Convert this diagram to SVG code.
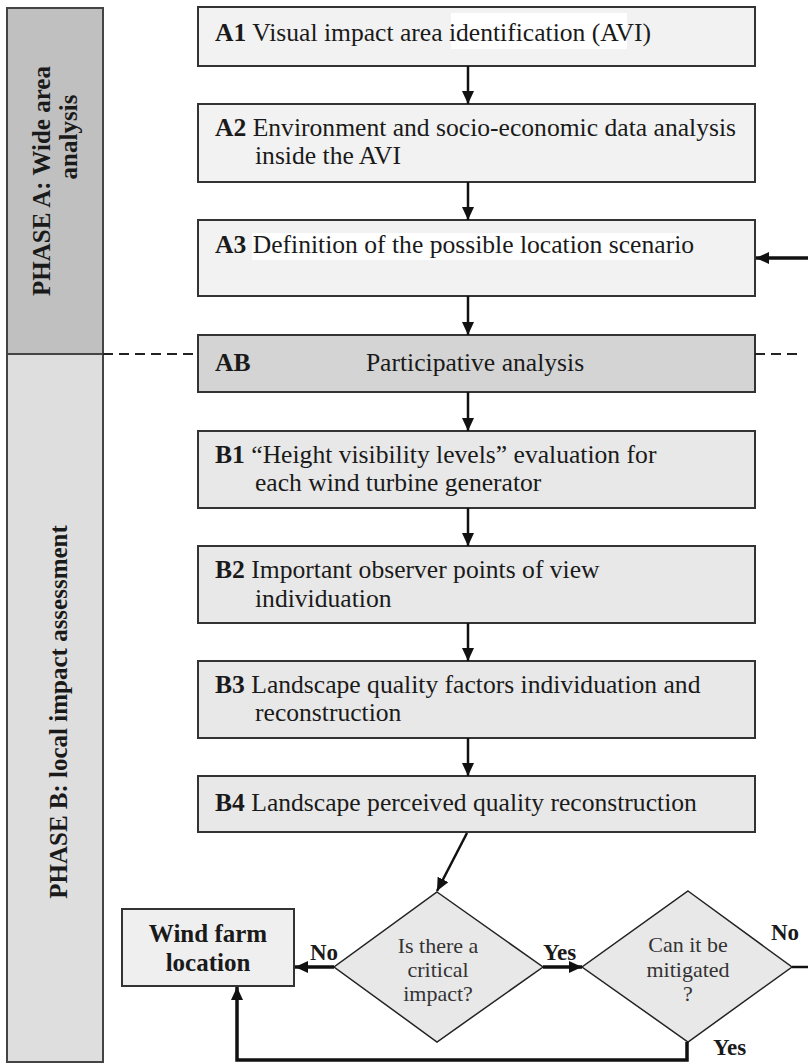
<svg xmlns="http://www.w3.org/2000/svg" width="808" height="1063" viewBox="0 0 808 1063">
<style>
  text { font-family: "Liberation Serif", "Times New Roman", serif; fill: #1a1a1a; }
  .t { font-size: 25.6px; }
  .p { font-size: 25px; font-weight: bold; text-anchor: middle; }
  .b { font-weight: bold; }
  .box { stroke: #333; stroke-width: 2; }
  .la { fill: #f2f2f2; }
  .lb { fill: #e8e8e8; }
  .ab { fill: #d4d4d4; }
  .dia { fill: #e8e8e8; stroke: #222; stroke-width: 1.5; }
  .q { font-size: 22px; fill: #333; text-anchor: middle; }
  .lbl { font-size: 23px; font-weight: bold; }
  .con { stroke: #111; stroke-width: 2.5; fill: none; }
  .thick { stroke: #111; stroke-width: 3.5; fill: none; }
  .dash { stroke: #222; stroke-width: 2; stroke-dasharray: 10 6; fill: none; }
</style>
<defs>
  <marker id="ah" markerUnits="userSpaceOnUse" markerWidth="14" markerHeight="12" refX="13" refY="6" orient="auto">
    <path d="M0,0 L13,6 L0,12 z" fill="#111"/>
  </marker>
</defs>

<g id="phaseA">
  <rect x="7" y="8" width="96" height="346" fill="#c0c0c0" stroke="#444" stroke-width="2"/>
  <text class="p" transform="translate(50,181) rotate(-90)">PHASE A: Wide area</text>
  <text class="p" transform="translate(77,137) rotate(-90)">analysis</text>
</g>
<g id="phaseB">
  <rect x="7" y="354" width="96" height="708" fill="#dedede" stroke="#444" stroke-width="2"/>
  <text class="p" transform="translate(67,712) rotate(-90)">PHASE B: local impact assessment</text>
</g>

<g id="A1">
  <rect class="box la" x="198" y="7" width="557" height="59"/>
  <rect x="451" y="13" width="176" height="36" fill="#ffffff"/>
  <text class="t" x="215" y="41"><tspan class="b">A1</tspan> Visual impact area identification (AVI)</text>
</g>
<g id="A2">
  <rect class="box la" x="198" y="104" width="557" height="78"/>
  <text class="t" x="215" y="136"><tspan class="b">A2</tspan> Environment and socio-economic data analysis</text>
  <text class="t" x="255" y="164">inside the AVI</text>
</g>
<g id="A3">
  <rect class="box la" x="198" y="220" width="557" height="76"/>
  <rect x="252" y="233" width="428" height="27" fill="#ffffff"/>
  <text class="t" x="215" y="253"><tspan class="b">A3</tspan> Definition of the possible location scenario</text>
</g>
<g id="AB">
  <rect class="box ab" x="198" y="335" width="557" height="57"/>
  <text class="t b" x="215" y="371">AB</text>
  <text class="t" x="475" y="371" text-anchor="middle">Participative analysis</text>
</g>
<g id="B1">
  <rect class="box lb" x="198" y="431" width="557" height="77"/>
  <text class="t" x="215" y="463"><tspan class="b">B1</tspan> “Height visibility levels” evaluation for</text>
  <text class="t" x="255" y="491">each wind turbine generator</text>
</g>
<g id="B2">
  <rect class="box lb" x="198" y="546" width="557" height="77"/>
  <text class="t" x="215" y="578"><tspan class="b">B2</tspan> Important observer points of view</text>
  <text class="t" x="255" y="607">individuation</text>
</g>
<g id="B3">
  <rect class="box lb" x="198" y="661" width="557" height="77"/>
  <text class="t" x="215" y="693"><tspan class="b">B3</tspan> Landscape quality factors individuation and</text>
  <text class="t" x="255" y="721">reconstruction</text>
</g>
<g id="B4">
  <rect class="box lb" x="198" y="776" width="557" height="56"/>
  <text class="t" x="215" y="811"><tspan class="b">B4</tspan> Landscape perceived quality reconstruction</text>
</g>

<g id="windfarm">
  <rect class="box" x="122" y="909" width="172" height="77" fill="#efefef"/>
  <text class="p" x="208" y="942">Wind farm</text>
  <text class="p" x="208" y="971">location</text>
</g>
<g id="D1">
  <polygon class="dia" points="437,892 543,967 437,1042 334,967"/>
  <text class="q" x="438" y="953">Is there a</text>
  <text class="q" x="438" y="977">critical</text>
  <text class="q" x="438" y="1001">impact?</text>
</g>
<g id="D2">
  <polygon class="dia" points="688,891 792,967 688,1042 582,967"/>
  <text class="q" x="688" y="952">Can it be</text>
  <text class="q" x="688" y="977">mitigated</text>
  <text class="q" x="688" y="1001">?</text>
</g>

<g id="connectors">
  <line class="con" x1="468" y1="66" x2="468" y2="104" marker-end="url(#ah)"/>
  <line class="con" x1="468" y1="182" x2="468" y2="220" marker-end="url(#ah)"/>
  <line class="con" x1="468" y1="296" x2="468" y2="335" marker-end="url(#ah)"/>
  <line class="con" x1="468" y1="392" x2="468" y2="431" marker-end="url(#ah)"/>
  <line class="con" x1="468" y1="508" x2="468" y2="546" marker-end="url(#ah)"/>
  <line class="con" x1="468" y1="623" x2="468" y2="661" marker-end="url(#ah)"/>
  <line class="con" x1="468" y1="738" x2="468" y2="776" marker-end="url(#ah)"/>
  <line class="con" x1="467" y1="833" x2="437" y2="891" marker-end="url(#ah)"/>
  <line class="thick" x1="808" y1="258" x2="756" y2="258" marker-end="url(#ah)"/>
  <line class="dash" x1="103" y1="354" x2="198" y2="354"/>
  <line class="dash" x1="755" y1="354" x2="797" y2="354"/>
  <line class="thick" x1="334" y1="967" x2="295" y2="967" marker-end="url(#ah)"/>
  <line class="thick" x1="543" y1="967" x2="582" y2="967" marker-end="url(#ah)"/>
  <line class="con" x1="792" y1="967" x2="808" y2="967"/>
  <polyline class="thick" points="687,1042 687,1060 237,1060 237,987" marker-end="url(#ah)"/>
  <text class="lbl" x="310" y="960">No</text>
  <text class="lbl" x="543" y="960">Yes</text>
  <text class="lbl" x="771" y="940">No</text>
  <text class="lbl" x="713" y="1055">Yes</text>
</g>
</svg>
